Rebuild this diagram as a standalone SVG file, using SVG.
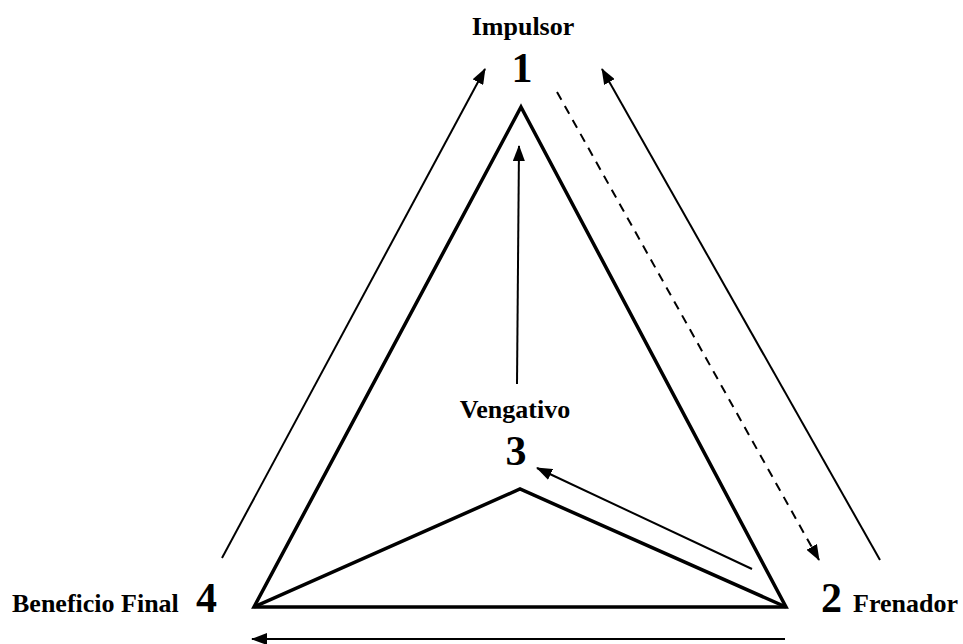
<svg xmlns="http://www.w3.org/2000/svg" width="963" height="644" viewBox="0 0 963 644">
<style>
.lbl{font-family:"Liberation Serif","Times New Roman",serif;font-weight:bold;font-size:26px;fill:#000}
.num{font-family:"Liberation Serif","Times New Roman",serif;font-weight:bold;font-size:42px;fill:#000}
.tri{fill:none;stroke:#000;stroke-width:3.5;stroke-linejoin:miter;stroke-miterlimit:10}
.arr{fill:none;stroke:#000;stroke-width:2;marker-end:url(#ah)}
.dash{stroke-dasharray:9,7}
</style>
<defs>
<marker id="ah" viewBox="0 0 16 12" refX="15" refY="6" markerWidth="16" markerHeight="12" markerUnits="userSpaceOnUse" orient="auto">
<path d="M0,0 L16,6 L0,12 Z" fill="#000"/>
</marker>
</defs>
<rect width="963" height="644" fill="#fff"/>
<g id="triangle">
<path class="tri" d="M521,107 L786,607 L254,607 Z"/>
<path class="tri" d="M254,607 L520,489 L786,607"/>
</g>
<g id="node1">
<text class="lbl" x="523" y="35" text-anchor="middle">Impulsor</text>
<text class="num" x="522" y="82" text-anchor="middle">1</text>
</g>
<g id="node2">
<text class="num" x="821" y="612">2</text>
<text class="lbl" x="853" y="612">Frenador</text>
</g>
<g id="node3">
<text class="lbl" x="515" y="418" text-anchor="middle">Vengativo</text>
<text class="num" x="516" y="465" text-anchor="middle">3</text>
</g>
<g id="node4">
<text class="lbl" x="12" y="612">Beneficio Final</text>
<text class="num" x="196" y="612">4</text>
</g>
<g id="connectors">
<line class="arr" x1="222" y1="558" x2="485" y2="69"/>
<line class="arr" x1="880" y1="560" x2="602" y2="69"/>
<line class="arr dash" x1="557" y1="92" x2="819" y2="560"/>
<line class="arr" x1="517" y1="384" x2="519" y2="146"/>
<line class="arr" x1="752" y1="569" x2="537" y2="468"/>
<line class="arr" x1="785" y1="639" x2="252" y2="639"/>
</g>
</svg>
